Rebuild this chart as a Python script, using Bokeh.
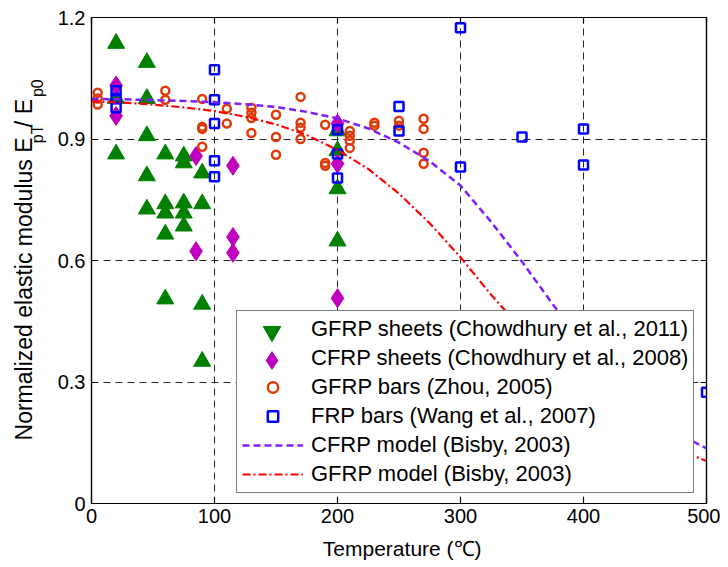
import math
from bokeh.plotting import figure
from bokeh.models import Range1d, FixedTicker, LinearAxis, Legend, LegendItem
from bokeh.core.properties import value
from bokeh.embed import file_html
from bokeh.resources import INLINE

# ---------------- data ----------------
x_ticks = [0, 100, 200, 300, 400, 500]
y_ticks = [0, 0.3, 0.6, 0.9, 1.2]

# GFRP sheets (Chowdhury et al., 2011)
gs_T = [20, 20, 20, 45, 45, 45, 45, 45, 60, 60, 60, 60, 60,
        75, 75, 75, 75, 75, 90, 90, 90, 90, 200, 200, 200, 200]
gs_E = [1.136, 1.0, 0.863, 1.089, 1.0, 0.908, 0.809, 0.727, 0.863, 0.740, 0.717, 0.665, 0.505,
        0.858, 0.841, 0.742, 0.717, 0.685, 0.816, 0.740, 0.492, 0.351, 0.920, 0.871, 0.777, 0.648]

# CFRP sheets (Chowdhury et al., 2008)
cs_T = [20, 20, 85, 85, 115, 115, 115, 200, 200, 200]
cs_E = [1.032, 0.957, 0.858, 0.623, 0.834, 0.658, 0.619, 0.938, 0.839, 0.507]

# GFRP bars (Zhou, 2005)
gb_T = [5, 5, 5, 60, 60, 90, 90, 90, 90, 110, 110, 130, 130, 130, 130,
        150, 150, 150, 170, 170, 170, 170, 190, 190, 190, 210, 210, 210, 210,
        230, 230, 250, 250, 270, 270, 270, 270]
gb_E = [1.014, 1.0, 0.985, 1.019, 0.997, 0.999, 0.930, 0.925, 0.881, 0.975, 0.938,
        0.977, 0.965, 0.952, 0.915, 0.960, 0.905, 0.861, 1.004, 0.940, 0.928, 0.900,
        0.935, 0.841, 0.834, 0.920, 0.908, 0.896, 0.878, 0.940, 0.933, 0.945, 0.933,
        0.950, 0.925, 0.866, 0.839]

# FRP bars (Wang et al., 2007)
fb_T = [20, 20, 20, 100, 100, 100, 100, 100, 200, 200, 200, 250, 250,
        300, 300, 350, 400, 400, 500]
fb_E = [1.019, 1.0, 0.977, 1.071, 0.997, 0.938, 0.846, 0.807, 0.923, 0.863, 0.804,
        0.980, 0.920, 1.175, 0.831, 0.905, 0.925, 0.836, 0.275]

# Model curves (Bisby, 2003)
m_T = [0, 25, 50, 75, 100, 125, 150, 175, 200, 225, 250, 275, 300,
       325, 350, 375, 400, 425, 450, 475, 500]
cfrp_E = [0.999, 0.998, 0.996, 0.994, 0.991, 0.986, 0.979, 0.967, 0.951, 0.926, 0.891, 0.845, 0.785,
          0.695, 0.597, 0.492, 0.393, 0.304, 0.232, 0.176, 0.136]
gfrp_E = [0.993, 0.990, 0.985, 0.978, 0.969, 0.955, 0.936, 0.910, 0.873, 0.826, 0.765, 0.692, 0.608,
          0.515, 0.430, 0.350, 0.280, 0.220, 0.170, 0.135, 0.105]

labels = ["GFRP sheets (Chowdhury et al., 2011)",
          "CFRP sheets (Chowdhury et al., 2008)",
          "GFRP bars (Zhou, 2005)",
          "FRP bars (Wang et al., 2007)",
          "CFRP model (Bisby, 2003)",
          "GFRP model (Bisby, 2003)"]

x_title = "Temperature (℃)"
y_title_parts = ["Normalized elastic modulus E", "pT", "/ E", "p0"]

# ---------------- styling ----------------
FONT = "Liberation Sans"
GREEN = "#008000"
MAGENTA = "#bf00bf"
ORANGE = "#dd3b0a"
BLUE = "#0000ff"
PURPLE = "#7f1fff"
RED = "#ff0000"

p = figure(width=720, height=566, x_range=Range1d(0, 500), y_range=Range1d(0, 1.2),
           output_backend="svg", toolbar_location=None,
           min_border_left=91, min_border_right=14, min_border_top=17, min_border_bottom=63,
           background_fill_color="white", border_fill_color="white")
p.outline_line_color = "black"
p.outline_line_width = 1.2

xax = p.xaxis[0]
yax = p.yaxis[0]
xax.ticker = FixedTicker(ticks=x_ticks)
yax.ticker = FixedTicker(ticks=y_ticks)
yax.major_label_overrides = {0: "0"}

top_ax = LinearAxis(ticker=FixedTicker(ticks=x_ticks))
right_ax = LinearAxis(ticker=FixedTicker(ticks=y_ticks))
p.add_layout(top_ax, "above")
p.add_layout(right_ax, "right")

for ax in [xax, yax, top_ax, right_ax]:
    ax.axis_line_color = "black"
    ax.axis_line_width = 1.2
    ax.major_tick_line_color = "black"
    ax.major_tick_line_width = 1.2
    ax.major_tick_in = 6
    ax.major_tick_out = 0
    ax.minor_tick_line_color = None
for ax in [xax, yax]:
    ax.major_label_text_font = FONT
    ax.major_label_text_font_size = "20px"
    ax.major_label_text_color = "black"
xax.major_label_standoff = 5
yax.major_label_standoff = 6
for ax in [top_ax, right_ax]:
    ax.major_label_text_font_size = "1px"
    ax.major_label_text_color = None
    ax.major_label_text_alpha = 0
    ax.major_label_standoff = 0

for g in [p.xgrid[0], p.ygrid[0]]:
    g.grid_line_color = "#262626"
    g.grid_line_dash = "7 5"
    g.grid_line_width = 1
p.xgrid[0].ticker = FixedTicker(ticks=x_ticks)
p.ygrid[0].ticker = FixedTicker(ticks=y_ticks)

# ---------------- glyphs ----------------
r_gs = p.scatter(gs_T, gs_E, marker="triangle", size=17, fill_color=GREEN, line_color=GREEN, line_width=1)
r_cs = p.scatter(cs_T, cs_E, marker="diamond", size=19, fill_color=MAGENTA, line_color=MAGENTA, line_width=1)
r_gb = p.scatter(gb_T, gb_E, marker="circle", size=8, fill_color=None, line_color=ORANGE, line_width=2.5)
r_fb = p.scatter(fb_T, fb_E, marker="square", size=9, fill_color=None, line_color=BLUE, line_width=2.5)
r_c = p.line(m_T, cfrp_E, line_color=PURPLE, line_width=2.5, line_dash="7 4")
r_g = p.line(m_T, gfrp_E, line_color=RED, line_width=2.2, line_dash="8 3 2 3")

# legend-only proxies
nan = float("nan")
r_blank = p.scatter([], [], marker="circle", size=1, fill_alpha=0, line_alpha=0)
r_gs_leg = p.scatter([nan], [nan], marker="inverted_triangle", size=17,
                     fill_color=GREEN, line_color=GREEN)

legend = Legend(items=[LegendItem(label=labels[0], renderers=[r_blank]),
                       LegendItem(label=labels[1], renderers=[r_blank]),
                       LegendItem(label=labels[2], renderers=[r_gb]),
                       LegendItem(label=labels[3], renderers=[r_fb]),
                       LegendItem(label=labels[4], renderers=[r_c]),
                       LegendItem(label=labels[5], renderers=[r_g])],
                location=(145, 10))
legend.label_text_font = FONT
legend.label_text_font_size = "22px"
legend.label_text_color = "black"
legend.glyph_width = 61
legend.glyph_height = 26
legend.label_height = 26
legend.spacing = 3
legend.padding = 5
legend.margin = 0
legend.label_standoff = 8
legend.border_line_color = "black"
legend.border_line_width = 1.5
legend.background_fill_color = "white"
legend.background_fill_alpha = 1.0
p.add_layout(legend)

# larger legend markers for the first two rows (each drawn over the main legend)
for rend, ly in [(r_gs_leg, 150), (r_cs, 121)]:
    lg = Legend(items=[LegendItem(label="", renderers=[rend])], location=(150, ly))
    lg.glyph_width = 61
    lg.glyph_height = 44
    lg.label_height = 44
    lg.spacing = 0
    lg.padding = 0
    lg.margin = 0
    lg.label_standoff = 0
    lg.border_line_color = None
    lg.background_fill_alpha = 0
    p.add_layout(lg)

# ---------------- axis titles (text glyphs drawn outside the frame clip) ----------------
p.text(x=[252.6], y=[-0.1112], text=[x_title], text_align="center", text_baseline="alphabetic",
       text_font=value(FONT), text_font_size="21px", text_color="black", level="overlay")

rot = math.pi / 2
p.text(x=[-55.2, -55.2], y=[0.1557, 0.9293], text=[y_title_parts[0], y_title_parts[2]], angle=rot,
       text_align="left", text_baseline="alphabetic", text_font=value(FONT),
       text_font_size="23px", text_color="black", level="overlay")
p.text(x=[-43.9, -43.9], y=[0.8898, 1.0035], text=[y_title_parts[1], y_title_parts[3]], angle=rot,
       text_align="left", text_baseline="alphabetic", text_font=value(FONT),
       text_font_size="16px", text_color="black", level="overlay")

open("out.html", "w").write(file_html(p, INLINE))
